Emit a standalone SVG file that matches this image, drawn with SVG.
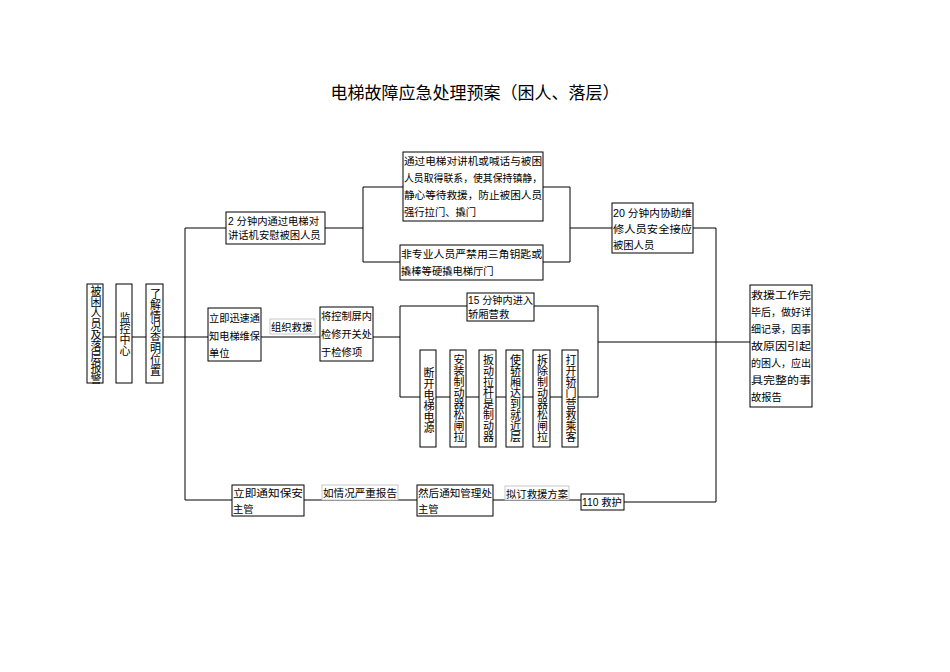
<svg xmlns="http://www.w3.org/2000/svg" width="950" height="672" viewBox="0 0 950 672">
<style>
text{font-family:"Liberation Sans","Noto Sans CJK SC",sans-serif;font-size:10.3px;fill:#000}
.t{font-size:17px}
.b{fill:#fff;stroke:#000;stroke-width:1}
.l{fill:#fff;stroke:#bbb;stroke-width:0.8}
.v{writing-mode:vertical-rl;font-size:11px}
.c line,.c polyline{stroke:#000;stroke-width:1;fill:none}
</style>
<rect width="950" height="672" fill="#fff"/>
<text class="t" x="475" y="99" text-anchor="middle">电梯故障应急处理预案（困人、落层）</text>
<g class="c">
<line x1="103" y1="337" x2="208" y2="337" stroke-width="1.5"/>
<line x1="185" y1="228" x2="185" y2="500"/>
<line x1="185" y1="228" x2="226" y2="228"/>
<line x1="325" y1="228" x2="363" y2="228"/>
<line x1="363" y1="187" x2="363" y2="262"/>
<line x1="363" y1="187" x2="403" y2="187"/>
<line x1="363" y1="262" x2="400" y2="262"/>
<line x1="543" y1="187" x2="570" y2="187"/>
<line x1="543" y1="262" x2="570" y2="262"/>
<line x1="570" y1="187" x2="570" y2="262"/>
<line x1="570" y1="228" x2="612" y2="228"/>
<line x1="693" y1="228" x2="716" y2="228"/>
<line x1="716" y1="228" x2="716" y2="502"/>
<line x1="261" y1="337" x2="320" y2="337" stroke-width="1.5"/>
<line x1="373" y1="337" x2="400" y2="337" stroke-width="1.5"/>
<line x1="400" y1="306" x2="400" y2="397"/>
<line x1="400" y1="306" x2="467" y2="306"/>
<line x1="534" y1="306" x2="598" y2="306"/>
<line x1="598" y1="306" x2="598" y2="397"/>
<line x1="400" y1="397" x2="598" y2="397"/>
<line x1="598" y1="342" x2="750" y2="342" stroke-width="1.5"/>
<line x1="185" y1="500" x2="232" y2="500"/>
<line x1="304" y1="500" x2="417" y2="500"/>
<line x1="493" y1="500" x2="581" y2="500"/>
<line x1="624" y1="502" x2="716" y2="502"/>
</g>
<g id="n1"><rect class="b" x="87" y="284" width="16" height="99"/><text class="v" x="95" y="285">被困人员及落层报警</text></g>
<g id="n2"><rect class="b" x="116" y="284" width="16" height="99"/><text class="v" x="124" y="312">监控中心</text></g>
<g id="n3"><rect class="b" x="146" y="284" width="17" height="99"/><text class="v" x="154.5" y="288">了解情况查明位置</text></g>
<g id="n4"><rect class="b" x="226" y="212" width="99" height="32"/><text x="228" y="225">2 分钟内通过电梯对</text><text x="228" y="239">讲话机安慰被困人员</text></g>
<g id="n5"><rect class="b" x="403" y="152" width="140" height="69"/><text x="404" y="165" textLength="138" lengthAdjust="spacingAndGlyphs">通过电梯对讲机或喊话与被困</text><text x="404" y="182" textLength="138" lengthAdjust="spacingAndGlyphs">人员取得联系，使其保持镇静，</text><text x="404" y="199" textLength="138" lengthAdjust="spacingAndGlyphs">静心等待救援，防止被困人员</text><text x="404" y="216">强行拉门、撬门</text></g>
<g id="n6"><rect class="b" x="400" y="245" width="143" height="35"/><text x="401" y="258" textLength="141" lengthAdjust="spacingAndGlyphs">非专业人员严禁用三角钥匙或</text><text x="401" y="275">撬棒等硬撬电梯厅门</text></g>
<g id="n7"><rect class="b" x="612" y="203" width="81" height="50"/><text x="613" y="217" textLength="79" lengthAdjust="spacingAndGlyphs">20 分钟内协助维</text><text x="613" y="233" textLength="79" lengthAdjust="spacingAndGlyphs">修人员安全接应</text><text x="613" y="249">被困人员</text></g>
<g id="n8"><rect class="b" x="208" y="308" width="53" height="53"/><text x="209" y="322" textLength="51" lengthAdjust="spacingAndGlyphs">立即迅速通</text><text x="209" y="340" textLength="51" lengthAdjust="spacingAndGlyphs">知电梯维保</text><text x="209" y="357">单位</text></g>
<g id="n9"><rect class="l" x="270" y="319" width="45" height="15"/><text x="271" y="331">组织救援</text></g>
<g id="n10"><rect class="b" x="320" y="307" width="53" height="54"/><text x="321" y="320" textLength="51" lengthAdjust="spacingAndGlyphs">将控制屏内</text><text x="321" y="338" textLength="51" lengthAdjust="spacingAndGlyphs">检修开关处</text><text x="321" y="356">于检修项</text></g>
<g id="n11"><rect class="b" x="467" y="293" width="67" height="28"/><text x="468" y="304" textLength="65" lengthAdjust="spacingAndGlyphs">15 分钟内进入</text><text x="468" y="318">轿厢营救</text></g>
<g id="n12"><rect class="b" x="420" y="350" width="16" height="97"/><text class="v" x="428" y="367">断开电梯电源</text></g>
<g id="n13"><rect class="b" x="450" y="350" width="16" height="97"/><text class="v" x="458" y="354">安装制动器松闸拉</text></g>
<g id="n14"><rect class="b" x="479" y="350" width="17" height="97"/><text class="v" x="487.5" y="354">扳动拉杆是制动器</text></g>
<g id="n15"><rect class="b" x="506" y="350" width="17" height="97"/><text class="v" x="514.5" y="354">使轿厢达到就近层</text></g>
<g id="n16"><rect class="b" x="533" y="350" width="17" height="97"/><text class="v" x="541.5" y="354">拆除制动器松闸拉</text></g>
<g id="n17"><rect class="b" x="562" y="350" width="16" height="97"/><text class="v" x="570" y="354">打开轿门营救乘客</text></g>
<g id="n18"><rect class="b" x="750" y="285" width="62" height="122"/><text x="751" y="299" textLength="60" lengthAdjust="spacingAndGlyphs">救援工作完</text><text x="751" y="316" textLength="60" lengthAdjust="spacingAndGlyphs">毕后，做好详</text><text x="751" y="333" textLength="60" lengthAdjust="spacingAndGlyphs">细记录，因事</text><text x="751" y="350" textLength="60" lengthAdjust="spacingAndGlyphs">故原因引起</text><text x="751" y="367" textLength="60" lengthAdjust="spacingAndGlyphs">的困人，应出</text><text x="751" y="384" textLength="60" lengthAdjust="spacingAndGlyphs">具完整的事</text><text x="751" y="401">故报告</text></g>
<g id="n19"><rect class="b" x="232" y="485" width="72" height="31"/><text x="233" y="497" textLength="70" lengthAdjust="spacingAndGlyphs">立即通知保安</text><text x="233" y="513">主管</text></g>
<g id="n20"><rect class="l" x="322" y="485" width="76" height="15"/><text x="323" y="497" textLength="74" lengthAdjust="spacingAndGlyphs">如情况严重报告</text></g>
<g id="n21"><rect class="b" x="417" y="485" width="76" height="31"/><text x="418" y="497" textLength="74" lengthAdjust="spacingAndGlyphs">然后通知管理处</text><text x="418" y="513">主管</text></g>
<g id="n22"><rect class="l" x="505" y="486" width="64" height="14"/><text x="506" y="498" textLength="62" lengthAdjust="spacingAndGlyphs">拟订救援方案</text></g>
<g id="n23"><rect class="b" x="581" y="494" width="43" height="16"/><text x="582" y="506">110 救护</text></g>
</svg>
